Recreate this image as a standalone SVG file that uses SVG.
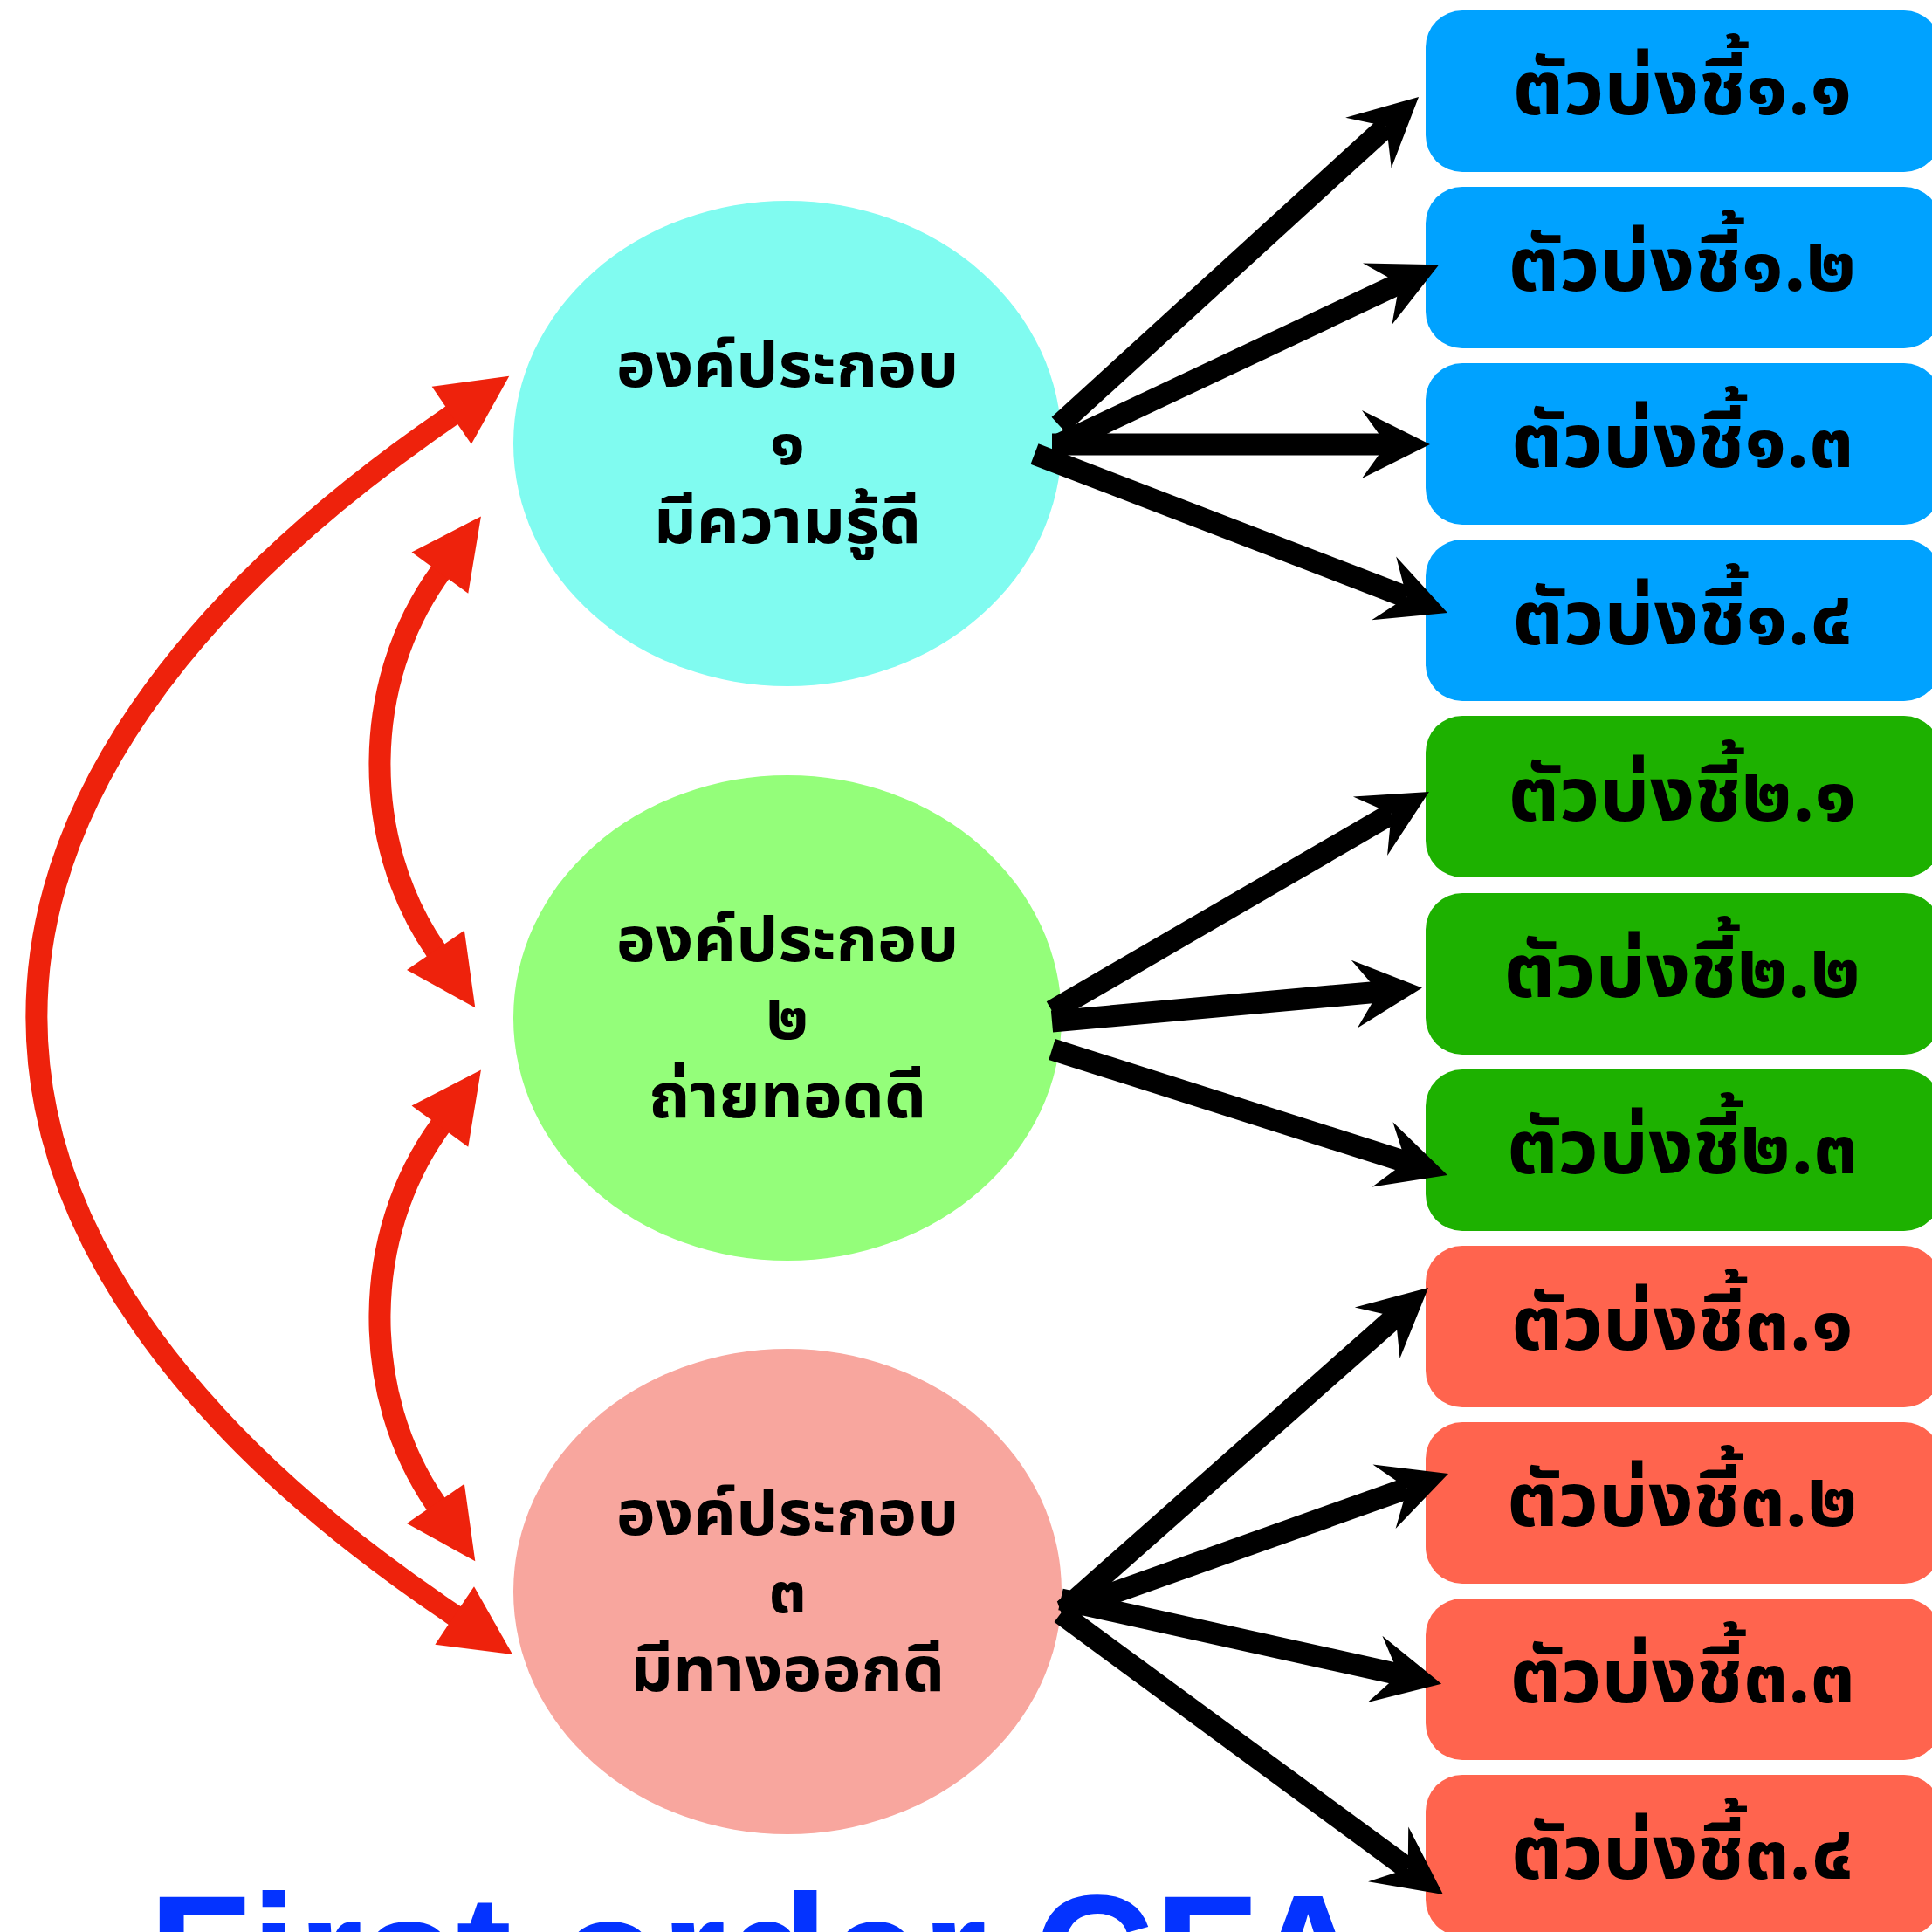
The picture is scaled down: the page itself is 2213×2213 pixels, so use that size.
<svg xmlns="http://www.w3.org/2000/svg" width="2213" height="2213" viewBox="0 0 2213 2213">
<style>
.th{font-family:"Noto Sans Thai UI","Noto Sans Thai","Noto Sans","DejaVu Sans",sans-serif;font-weight:bold;fill:#000;text-anchor:middle}
.lbl{font-size:76px}
.box{font-size:90px}
.conn-b{stroke:#000;stroke-width:25;fill:none;marker-end:url(#ab)}
.conn-r{stroke:#EE220C;stroke-width:25;fill:none;marker-end:url(#ar);marker-start:url(#ar)}
.title{font-family:"Liberation Sans",Arial,sans-serif;font-weight:bold;font-size:192px;fill:#0433FF}
</style>
<defs>
<marker id="ab" markerUnits="userSpaceOnUse" orient="auto" refX="0" refY="0" markerWidth="120" markerHeight="120" overflow="visible">
<path d="M50,0 L-28,-39 L0,0 L-28,39 Z" fill="#000"/>
</marker>
<marker id="ar" markerUnits="userSpaceOnUse" orient="auto-start-reverse" refX="0" refY="0" markerWidth="120" markerHeight="120" overflow="visible">
<path d="M79,0 L-1,-40 L-1,40 Z" fill="#EE220C"/>
</marker>
</defs>

<g id="factor1">
<ellipse cx="902" cy="508" rx="314" ry="278" fill="#80FBF0"/>
<text class="th lbl" x="902" y="443">องค์ประกอบ</text>
<text class="th lbl" x="902" y="532">๑</text>
<text class="th lbl" x="902" y="622">มีความรู้ดี</text>
</g>
<g id="factor2">
<ellipse cx="902" cy="1166" rx="314" ry="278" fill="#94FE7A"/>
<text class="th lbl" x="902" y="1101">องค์ประกอบ</text>
<text class="th lbl" x="902" y="1190">๒</text>
<text class="th lbl" x="902" y="1280">ถ่ายทอดดี</text>
</g>
<g id="factor3">
<ellipse cx="902" cy="1823" rx="314" ry="278" fill="#F8A69E"/>
<text class="th lbl" x="902" y="1758">องค์ประกอบ</text>
<text class="th lbl" x="902" y="1847">๓</text>
<text class="th lbl" x="902" y="1937">มีทางออกดี</text>
</g>

<g id="ind1-1"><rect x="1633" y="12" width="590" height="185" rx="42" fill="#00A2FF"/><text class="th box" x="1927" y="131">ตัวบ่งชี้๑.๑</text></g>
<g id="ind1-2"><rect x="1633" y="214" width="590" height="185" rx="42" fill="#00A2FF"/><text class="th box" x="1927" y="333">ตัวบ่งชี้๑.๒</text></g>
<g id="ind1-3"><rect x="1633" y="416" width="590" height="185" rx="42" fill="#00A2FF"/><text class="th box" x="1927" y="535">ตัวบ่งชี้๑.๓</text></g>
<g id="ind1-4"><rect x="1633" y="618" width="590" height="185" rx="42" fill="#00A2FF"/><text class="th box" x="1927" y="738">ตัวบ่งชี้๑.๔</text></g>
<g id="ind2-1"><rect x="1633" y="820" width="590" height="185" rx="42" fill="#1DB100"/><text class="th box" x="1927" y="940">ตัวบ่งชี้๒.๑</text></g>
<g id="ind2-2"><rect x="1633" y="1023" width="590" height="185" rx="42" fill="#1DB100"/><text class="th box" x="1927" y="1142">ตัวบ่งชี้๒.๒</text></g>
<g id="ind2-3"><rect x="1633" y="1225" width="590" height="185" rx="42" fill="#1DB100"/><text class="th box" x="1927" y="1344">ตัวบ่งชี้๒.๓</text></g>
<g id="ind3-1"><rect x="1633" y="1427" width="590" height="185" rx="42" fill="#FF644E"/><text class="th box" x="1927" y="1546">ตัวบ่งชี้๓.๑</text></g>
<g id="ind3-2"><rect x="1633" y="1629" width="590" height="185" rx="42" fill="#FF644E"/><text class="th box" x="1927" y="1748">ตัวบ่งชี้๓.๒</text></g>
<g id="ind3-3"><rect x="1633" y="1831" width="590" height="185" rx="42" fill="#FF644E"/><text class="th box" x="1927" y="1950">ตัวบ่งชี้๓.๓</text></g>
<g id="ind3-4"><rect x="1633" y="2033" width="590" height="185" rx="42" fill="#FF644E"/><text class="th box" x="1927" y="2152">ตัวบ่งชี้๓.๔</text></g>

<g id="connectors">
<path class="conn-r" d="M518.1,475.3 C-117.6,910.7 -117.3,1421.8 521.5,1851"/>
<path class="conn-r" d="M504.5,655.3 C413.5,780.5 411.8,961.7 499.5,1089.2"/>
<path class="conn-r" d="M504.5,1289.3 C413.5,1414.5 411.8,1595.7 499.5,1723.2"/>
<path class="conn-b" d="M1213,487 L1588.1,144.7"/>
<path class="conn-b" d="M1215,508 L1603,324.7"/>
<path class="conn-b" d="M1205,509 L1588,509"/>
<path class="conn-b" d="M1185,520 L1611.3,684"/>
<path class="conn-b" d="M1205,1158 L1593.7,932.1"/>
<path class="conn-b" d="M1205,1170 L1579.2,1136.1"/>
<path class="conn-b" d="M1205,1202 L1610.3,1330.9"/>
<path class="conn-b" d="M1220,1843 L1598.6,1508.2"/>
<path class="conn-b" d="M1215,1846 L1611.9,1704.8"/>
<path class="conn-b" d="M1215,1832 L1602.3,1917.9"/>
<path class="conn-b" d="M1215,1848 L1612.7,2140.4"/>
</g>

<text class="title" x="170" y="2304">First order CFA</text>
</svg>
